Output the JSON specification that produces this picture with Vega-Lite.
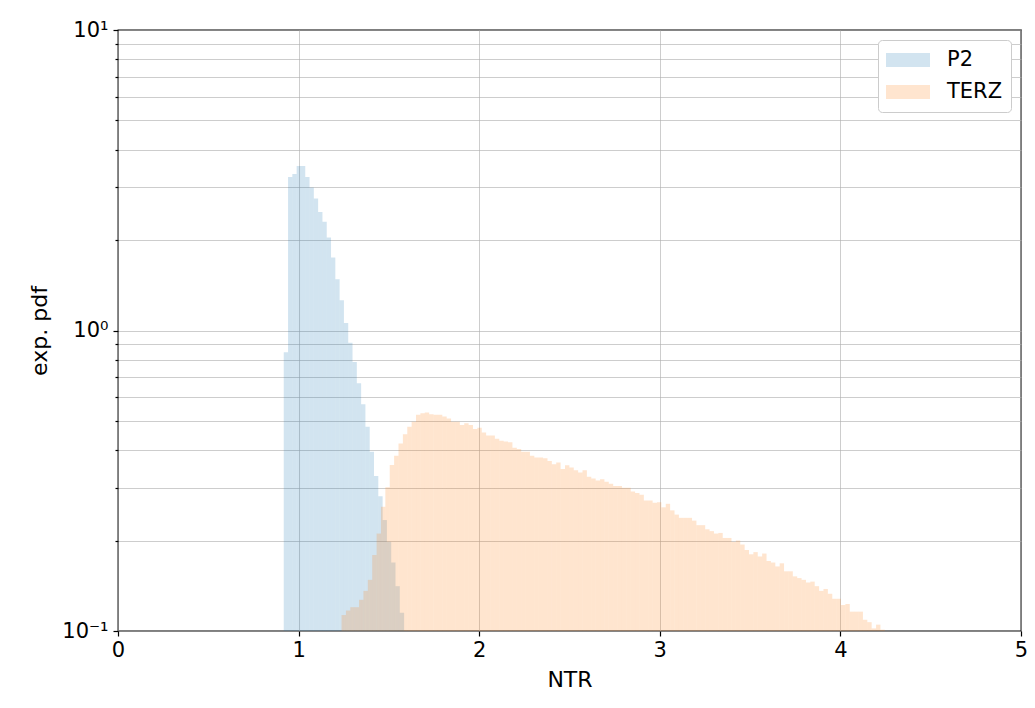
{
  "$schema": "https://vega.github.io/schema/vega-lite/v6.json",
  "width": 903,
  "height": 601,
  "autosize": {"type": "none"},
  "padding": {"left": 118, "top": 30, "right": 14, "bottom": 77},
  "background": "white",
  "config": {
    "font": "DejaVu Sans",
    "view": {"stroke": "black", "strokeWidth": 1.3},
    "axis": {
      "labelFont": "DejaVu Sans",
      "labelFontSize": 21,
      "labelColor": "black",
      "labelFlush": false,
      "titleFont": "DejaVu Sans",
      "titleFontSize": 22,
      "titleFontWeight": "normal",
      "titleColor": "black",
      "domain": false,
      "tickColor": "black",
      "tickWidth": 1.2,
      "grid": true,
      "gridColor": "#b0b0b0",
      "gridOpacity": 0.7,
      "gridWidth": 0.9
    },
    "legend": {
      "orient": "top-right",
      "offset": 10,
      "fillColor": "white",
      "strokeColor": "#cccccc",
      "cornerRadius": 4,
      "padding": 8,
      "labelFont": "DejaVu Sans",
      "labelFontSize": 21,
      "labelColor": "black",
      "labelOffset": 17,
      "symbolType": "M-1,-0.318H1V0.318H-1Z",
      "symbolSize": 1936,
      "symbolStrokeWidth": 0,
      "symbolOpacity": 0.2,
      "clipHeight": 24,
      "rowPadding": 8
    }
  },
  "datasets": {
    "p2": [
      {"series": "P2", "ntr": 0.9150, "pdf": 0.846},
      {"series": "P2", "ntr": 0.9388, "pdf": 3.24},
      {"series": "P2", "ntr": 0.9626, "pdf": 3.32},
      {"series": "P2", "ntr": 0.9864, "pdf": 3.53},
      {"series": "P2", "ntr": 1.0102, "pdf": 3.53},
      {"series": "P2", "ntr": 1.0340, "pdf": 3.24},
      {"series": "P2", "ntr": 1.0578, "pdf": 2.99},
      {"series": "P2", "ntr": 1.0816, "pdf": 2.75},
      {"series": "P2", "ntr": 1.1054, "pdf": 2.48},
      {"series": "P2", "ntr": 1.1292, "pdf": 2.30},
      {"series": "P2", "ntr": 1.1530, "pdf": 2.04},
      {"series": "P2", "ntr": 1.1768, "pdf": 1.75},
      {"series": "P2", "ntr": 1.2006, "pdf": 1.48},
      {"series": "P2", "ntr": 1.2244, "pdf": 1.26},
      {"series": "P2", "ntr": 1.2482, "pdf": 1.06},
      {"series": "P2", "ntr": 1.2720, "pdf": 0.911},
      {"series": "P2", "ntr": 1.2958, "pdf": 0.786},
      {"series": "P2", "ntr": 1.3196, "pdf": 0.667},
      {"series": "P2", "ntr": 1.3434, "pdf": 0.568},
      {"series": "P2", "ntr": 1.3672, "pdf": 0.478},
      {"series": "P2", "ntr": 1.3910, "pdf": 0.395},
      {"series": "P2", "ntr": 1.4148, "pdf": 0.328},
      {"series": "P2", "ntr": 1.4386, "pdf": 0.281},
      {"series": "P2", "ntr": 1.4624, "pdf": 0.234},
      {"series": "P2", "ntr": 1.4862, "pdf": 0.198},
      {"series": "P2", "ntr": 1.5100, "pdf": 0.169},
      {"series": "P2", "ntr": 1.5338, "pdf": 0.141},
      {"series": "P2", "ntr": 1.5576, "pdf": 0.115}
    ],
    "terz": [
      {"series": "TERZ", "ntr": 1.2350, "pdf": 0.113},
      {"series": "TERZ", "ntr": 1.2593, "pdf": 0.117},
      {"series": "TERZ", "ntr": 1.2835, "pdf": 0.120},
      {"series": "TERZ", "ntr": 1.3078, "pdf": 0.120},
      {"series": "TERZ", "ntr": 1.3320, "pdf": 0.127},
      {"series": "TERZ", "ntr": 1.3563, "pdf": 0.136},
      {"series": "TERZ", "ntr": 1.3806, "pdf": 0.148},
      {"series": "TERZ", "ntr": 1.4048, "pdf": 0.179},
      {"series": "TERZ", "ntr": 1.4291, "pdf": 0.211},
      {"series": "TERZ", "ntr": 1.4533, "pdf": 0.259},
      {"series": "TERZ", "ntr": 1.4776, "pdf": 0.301},
      {"series": "TERZ", "ntr": 1.5019, "pdf": 0.357},
      {"series": "TERZ", "ntr": 1.5261, "pdf": 0.383},
      {"series": "TERZ", "ntr": 1.5504, "pdf": 0.421},
      {"series": "TERZ", "ntr": 1.5746, "pdf": 0.452},
      {"series": "TERZ", "ntr": 1.5989, "pdf": 0.478},
      {"series": "TERZ", "ntr": 1.6232, "pdf": 0.497},
      {"series": "TERZ", "ntr": 1.6474, "pdf": 0.524},
      {"series": "TERZ", "ntr": 1.6717, "pdf": 0.530},
      {"series": "TERZ", "ntr": 1.6959, "pdf": 0.533},
      {"series": "TERZ", "ntr": 1.7202, "pdf": 0.526},
      {"series": "TERZ", "ntr": 1.7445, "pdf": 0.524},
      {"series": "TERZ", "ntr": 1.7687, "pdf": 0.524},
      {"series": "TERZ", "ntr": 1.7930, "pdf": 0.517},
      {"series": "TERZ", "ntr": 1.8172, "pdf": 0.510},
      {"series": "TERZ", "ntr": 1.8415, "pdf": 0.497},
      {"series": "TERZ", "ntr": 1.8658, "pdf": 0.497},
      {"series": "TERZ", "ntr": 1.8900, "pdf": 0.485},
      {"series": "TERZ", "ntr": 1.9143, "pdf": 0.491},
      {"series": "TERZ", "ntr": 1.9385, "pdf": 0.485},
      {"series": "TERZ", "ntr": 1.9628, "pdf": 0.470},
      {"series": "TERZ", "ntr": 1.9871, "pdf": 0.475},
      {"series": "TERZ", "ntr": 2.0113, "pdf": 0.458},
      {"series": "TERZ", "ntr": 2.0356, "pdf": 0.447},
      {"series": "TERZ", "ntr": 2.0598, "pdf": 0.447},
      {"series": "TERZ", "ntr": 2.0841, "pdf": 0.436},
      {"series": "TERZ", "ntr": 2.1084, "pdf": 0.430},
      {"series": "TERZ", "ntr": 2.1326, "pdf": 0.427},
      {"series": "TERZ", "ntr": 2.1569, "pdf": 0.425},
      {"series": "TERZ", "ntr": 2.1811, "pdf": 0.407},
      {"series": "TERZ", "ntr": 2.2054, "pdf": 0.403},
      {"series": "TERZ", "ntr": 2.2297, "pdf": 0.395},
      {"series": "TERZ", "ntr": 2.2539, "pdf": 0.395},
      {"series": "TERZ", "ntr": 2.2782, "pdf": 0.383},
      {"series": "TERZ", "ntr": 2.3024, "pdf": 0.378},
      {"series": "TERZ", "ntr": 2.3267, "pdf": 0.378},
      {"series": "TERZ", "ntr": 2.3510, "pdf": 0.376},
      {"series": "TERZ", "ntr": 2.3752, "pdf": 0.368},
      {"series": "TERZ", "ntr": 2.3995, "pdf": 0.359},
      {"series": "TERZ", "ntr": 2.4237, "pdf": 0.364},
      {"series": "TERZ", "ntr": 2.4480, "pdf": 0.346},
      {"series": "TERZ", "ntr": 2.4723, "pdf": 0.356},
      {"series": "TERZ", "ntr": 2.4965, "pdf": 0.350},
      {"series": "TERZ", "ntr": 2.5208, "pdf": 0.343},
      {"series": "TERZ", "ntr": 2.5450, "pdf": 0.337},
      {"series": "TERZ", "ntr": 2.5693, "pdf": 0.343},
      {"series": "TERZ", "ntr": 2.5936, "pdf": 0.326},
      {"series": "TERZ", "ntr": 2.6178, "pdf": 0.322},
      {"series": "TERZ", "ntr": 2.6421, "pdf": 0.317},
      {"series": "TERZ", "ntr": 2.6663, "pdf": 0.320},
      {"series": "TERZ", "ntr": 2.6906, "pdf": 0.314},
      {"series": "TERZ", "ntr": 2.7149, "pdf": 0.309},
      {"series": "TERZ", "ntr": 2.7391, "pdf": 0.304},
      {"series": "TERZ", "ntr": 2.7634, "pdf": 0.304},
      {"series": "TERZ", "ntr": 2.7876, "pdf": 0.300},
      {"series": "TERZ", "ntr": 2.8119, "pdf": 0.300},
      {"series": "TERZ", "ntr": 2.8362, "pdf": 0.291},
      {"series": "TERZ", "ntr": 2.8604, "pdf": 0.288},
      {"series": "TERZ", "ntr": 2.8847, "pdf": 0.284},
      {"series": "TERZ", "ntr": 2.9089, "pdf": 0.272},
      {"series": "TERZ", "ntr": 2.9332, "pdf": 0.272},
      {"series": "TERZ", "ntr": 2.9575, "pdf": 0.267},
      {"series": "TERZ", "ntr": 2.9817, "pdf": 0.268},
      {"series": "TERZ", "ntr": 3.0060, "pdf": 0.258},
      {"series": "TERZ", "ntr": 3.0302, "pdf": 0.265},
      {"series": "TERZ", "ntr": 3.0545, "pdf": 0.252},
      {"series": "TERZ", "ntr": 3.0788, "pdf": 0.244},
      {"series": "TERZ", "ntr": 3.1030, "pdf": 0.238},
      {"series": "TERZ", "ntr": 3.1273, "pdf": 0.238},
      {"series": "TERZ", "ntr": 3.1515, "pdf": 0.238},
      {"series": "TERZ", "ntr": 3.1758, "pdf": 0.233},
      {"series": "TERZ", "ntr": 3.2001, "pdf": 0.225},
      {"series": "TERZ", "ntr": 3.2243, "pdf": 0.225},
      {"series": "TERZ", "ntr": 3.2486, "pdf": 0.218},
      {"series": "TERZ", "ntr": 3.2728, "pdf": 0.215},
      {"series": "TERZ", "ntr": 3.2971, "pdf": 0.211},
      {"series": "TERZ", "ntr": 3.3214, "pdf": 0.212},
      {"series": "TERZ", "ntr": 3.3456, "pdf": 0.204},
      {"series": "TERZ", "ntr": 3.3699, "pdf": 0.204},
      {"series": "TERZ", "ntr": 3.3941, "pdf": 0.198},
      {"series": "TERZ", "ntr": 3.4184, "pdf": 0.200},
      {"series": "TERZ", "ntr": 3.4427, "pdf": 0.194},
      {"series": "TERZ", "ntr": 3.4669, "pdf": 0.186},
      {"series": "TERZ", "ntr": 3.4912, "pdf": 0.180},
      {"series": "TERZ", "ntr": 3.5154, "pdf": 0.183},
      {"series": "TERZ", "ntr": 3.5397, "pdf": 0.177},
      {"series": "TERZ", "ntr": 3.5640, "pdf": 0.181},
      {"series": "TERZ", "ntr": 3.5882, "pdf": 0.171},
      {"series": "TERZ", "ntr": 3.6125, "pdf": 0.169},
      {"series": "TERZ", "ntr": 3.6367, "pdf": 0.164},
      {"series": "TERZ", "ntr": 3.6610, "pdf": 0.168},
      {"series": "TERZ", "ntr": 3.6853, "pdf": 0.158},
      {"series": "TERZ", "ntr": 3.7095, "pdf": 0.158},
      {"series": "TERZ", "ntr": 3.7338, "pdf": 0.152},
      {"series": "TERZ", "ntr": 3.7580, "pdf": 0.150},
      {"series": "TERZ", "ntr": 3.7823, "pdf": 0.148},
      {"series": "TERZ", "ntr": 3.8066, "pdf": 0.145},
      {"series": "TERZ", "ntr": 3.8308, "pdf": 0.146},
      {"series": "TERZ", "ntr": 3.8551, "pdf": 0.141},
      {"series": "TERZ", "ntr": 3.8793, "pdf": 0.136},
      {"series": "TERZ", "ntr": 3.9036, "pdf": 0.138},
      {"series": "TERZ", "ntr": 3.9279, "pdf": 0.133},
      {"series": "TERZ", "ntr": 3.9521, "pdf": 0.128},
      {"series": "TERZ", "ntr": 3.9764, "pdf": 0.128},
      {"series": "TERZ", "ntr": 4.0006, "pdf": 0.122},
      {"series": "TERZ", "ntr": 4.0249, "pdf": 0.123},
      {"series": "TERZ", "ntr": 4.0492, "pdf": 0.116},
      {"series": "TERZ", "ntr": 4.0734, "pdf": 0.116},
      {"series": "TERZ", "ntr": 4.0977, "pdf": 0.116},
      {"series": "TERZ", "ntr": 4.1219, "pdf": 0.109},
      {"series": "TERZ", "ntr": 4.1462, "pdf": 0.107},
      {"series": "TERZ", "ntr": 4.1705, "pdf": 0.102},
      {"series": "TERZ", "ntr": 4.1947, "pdf": 0.105},
      {"series": "TERZ", "ntr": 4.2190, "pdf": 0.101}
    ]
  },
  "layer": [
    {
      "data": {"name": "p2"},
      "mark": {"type": "bar", "binSpacing": 0, "opacity": 0.2},
      "encoding": {
        "x": {
          "field": "ntr",
          "type": "quantitative",
          "bin": {"binned": true, "step": 0.0238},
          "scale": {"domain": [0, 5], "nice": false, "zero": false},
          "axis": {
            "title": "NTR",
            "values": [0, 1, 2, 3, 4, 5],
            "format": "d",
            "tickSize": 5,
            "labelPadding": 3,
            "titlePadding": 9
          }
        },
        "y": {
          "field": "pdf",
          "type": "quantitative",
          "stack": null,
          "scale": {"type": "log", "domain": [0.1, 10], "nice": false},
          "axis": {
            "title": "exp. pdf",
            "values": [0.1, 0.2, 0.3, 0.4, 0.5, 0.6, 0.7, 0.8, 0.9, 1, 2, 3, 4, 5, 6, 7, 8, 9, 10],
            "labelExpr": "datum.value == 10 ? '10¹' : datum.value == 1 ? '10⁰' : datum.value == 0.1 ? '10⁻¹' : ''",
            "labelOverlap": false,
            "labelPadding": 5,
            "titlePadding": 10,
            "tickSize": {"condition": {"test": "datum.value == 0.1 || datum.value == 1 || datum.value == 10", "value": 5}, "value": 3}
          }
        },
        "color": {
          "field": "series",
          "type": "nominal",
          "scale": {"domain": ["P2", "TERZ"], "range": ["#1f77b4", "#ff7f0e"]},
          "legend": {"title": null}
        }
      }
    },
    {
      "data": {"name": "terz"},
      "mark": {"type": "bar", "binSpacing": 0, "opacity": 0.2},
      "encoding": {
        "x": {
          "field": "ntr",
          "type": "quantitative",
          "bin": {"binned": true, "step": 0.02426}
        },
        "y": {"field": "pdf", "type": "quantitative", "stack": null},
        "color": {"field": "series", "type": "nominal"}
      }
    }
  ]
}
